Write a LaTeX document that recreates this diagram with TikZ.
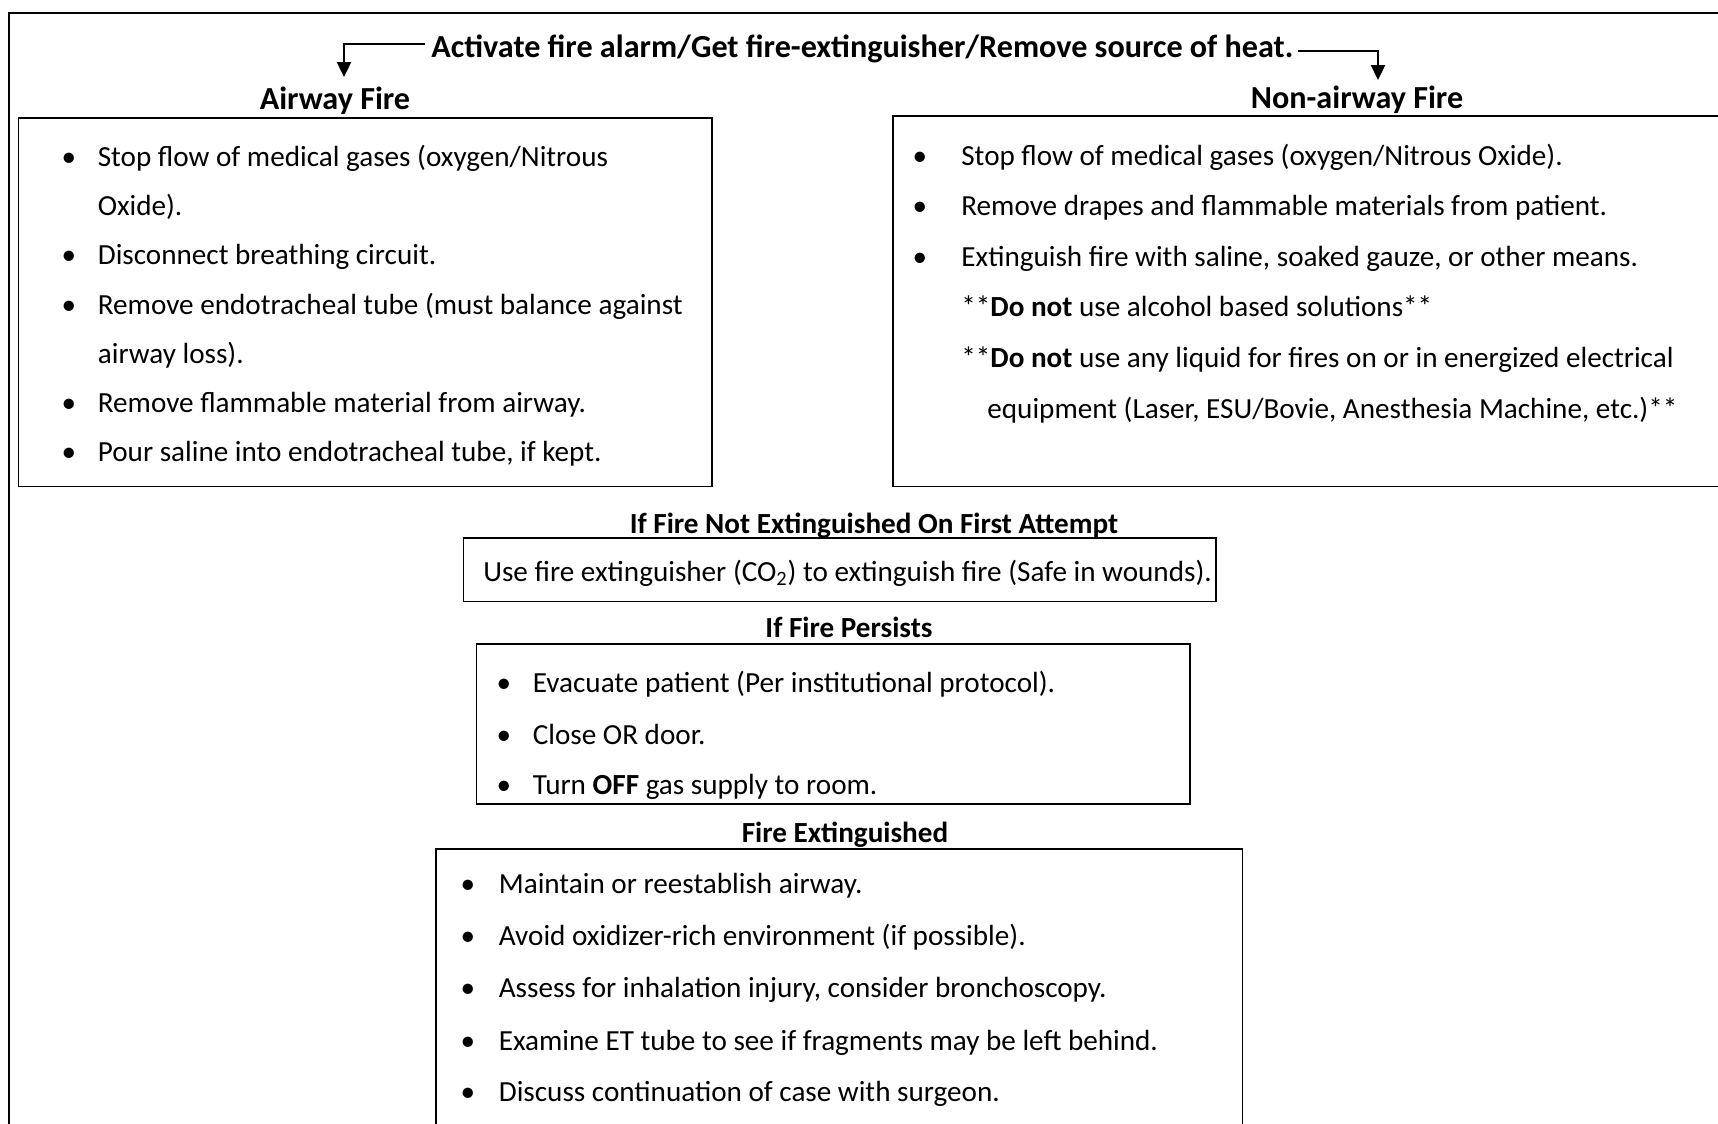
\documentclass[tikz,border=0pt]{standalone}
\usepackage{fontspec}
\setmainfont{Carlito}
\usetikzlibrary{arrows.meta}

\begin{document}
\begin{tikzpicture}[x=0.02cm,y=-0.02cm,
    every node/.style={inner sep=0pt,font=\fontsize{16.6}{20}\selectfont},
    head/.style={anchor=base,font=\fontsize{16.6}{20}\selectfont\bfseries},
    bighead/.style={head,font=\fontsize{18.3}{22}\selectfont\bfseries},
    line/.style={anchor=base west},
    dot/.style={anchor=base},
    box/.style={draw,line width=1pt},
    arr/.style={-{Triangle[width=8pt,length=8.5pt]},line width=1.1pt}]
  \useasboundingbox (0,0) rectangle (1718,1123);
  \clip (0,0) rectangle (1718,1123);
  % frame and boxes
  \draw[box] (9,13) rectangle (1740,1140);
  \draw[box] (18.6,118) rectangle (712,486.5);
  \draw[box] (893,116) rectangle (1740,486.5);
  \draw[box] (463.5,538) rectangle (1216,601.5);
  \draw[box] (476.6,644) rectangle (1190,804);
  \draw[box] (436,849) rectangle (1242.5,1140);
  % headings
  \node[bighead] (hdr) at (862.5,57.4) {Activate fire alarm/Get fire-extinguisher/Remove source of heat.};
  \node[bighead] (airway) at (335,109) {Airway Fire};
  \node[bighead] (nonairway) at (1357,108) {Non-airway Fire};
  \node[head] (first) at (874,533) {If Fire Not Extinguished On First Attempt};
  \node[head] (persist) at (849,637) {If Fire Persists};
  \node[head] (done) at (845,842) {Fire Extinguished};
  \coordinate (airtip) at (344,77);
  \coordinate (nontip) at (1378,80);
  \draw[arr] ([xshift=-3.4pt,yshift=7.6pt]hdr.base west) -| (airtip);
  \draw[arr] ([xshift=2.3pt,yshift=3.6pt]hdr.base east) -| (nontip);
  % airway fire
  \foreach \y/\b/\t in {166.5/1/{Stop flow of medical gases (oxygen/Nitrous},
      215.5/0/{Oxide).}, 264.5/1/{Disconnect breathing circuit.},
      314/1/{Remove endotracheal tube (must balance against},
      363/0/{airway loss).}, 412/1/{Remove flammable material from airway.},
      461/1/{Pour saline into endotracheal tube, if kept.}}{
    \node[line] (air\y) at (97.5,\y) {\t};
    \ifnum\b=1 \node[dot] (airdot\y) at (69,\y) {•}; \fi
  }
  % non-airway fire
  \foreach \y/\x/\b/\t in {165/961/1/{Stop flow of medical gases (oxygen/Nitrous Oxide).},
      215.5/961/1/{Remove drapes and flammable materials from patient.},
      266/961/1/{Extinguish fire with saline, soaked gauze, or other means.},
      316.5/961/0/{**\textbf{Do not} use alcohol based solutions**},
      367.5/961/0/{**\textbf{Do not} use any liquid for fires on or in energized electrical},
      418/987/0/{equipment (Laser, ESU/Bovie, Anesthesia Machine, etc.)**}}{
    \node[line] (non\y) at (\x,\y) {\t};
    \ifnum\b=1 \node[dot] (nondot\y) at (920,\y) {•}; \fi
  }
  % first attempt
  \node[line] (co2) at (483,581) {Use fire extinguisher (CO\textsubscript{2}) to extinguish fire (Safe in wounds).};
  % fire persists
  \foreach \y/\t in {692.5/{Evacuate patient (Per institutional protocol).},
      744/{Close OR door.}, 794.5/{Turn \textbf{OFF} gas supply to room.}}{
    \node[line] (per\y) at (532.5,\y) {\t};
    \node[dot] (perdot\y) at (504,\y) {•};
  }
  % fire extinguished
  \foreach \y/\t in {893/{Maintain or reestablish airway.},
      945.5/{Avoid oxidizer-rich environment (if possible).},
      997/{Assess for inhalation injury, consider bronchoscopy.},
      1050/{Examine ET tube to see if fragments may be left behind.},
      1101/{Discuss continuation of case with surgeon.}}{
    \node[line] (ext\y) at (498.5,\y) {\t};
    \node[dot] (extdot\y) at (468,\y) {•};
  }
\end{tikzpicture}
\end{document}
